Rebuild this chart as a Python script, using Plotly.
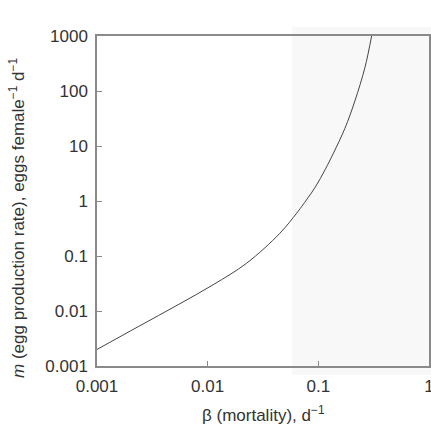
import plotly.graph_objects as go

# data
beta = [0.001, 0.00236, 0.0054, 0.0112, 0.0225, 0.045, 0.0637, 0.0706, 0.094, 0.115, 0.136, 0.174, 0.214, 0.264, 0.303]
m_rate = [0.002, 0.0052, 0.013, 0.03, 0.074, 0.26, 0.6, 0.79, 1.8, 3.7, 7.2, 21, 66, 270, 1000]

x_ticks = [0.001, 0.01, 0.1, 1]
x_labels = ["0.001", "0.01", "0.1", "1"]
y_ticks = [0.001, 0.01, 0.1, 1, 10, 100, 1000]
y_labels = ["0.001", "0.01", "0.1", "1", "10", "100", "1000"]

W, H = 431, 437
L, R, T, B = 97, 2, 36, 71
FONT = "Liberation Sans, Arial, sans-serif"

fig = go.Figure()
fig.add_trace(go.Scatter(x=beta, y=m_rate, mode="lines",
                         line=dict(color="#444444", width=1, shape="spline", smoothing=1.0),
                         showlegend=False, hoverinfo="skip"))

axis_common = dict(type="log", showgrid=False, zeroline=False, showline=True,
                   linecolor="#8a8a8a", linewidth=1.5, mirror=True,
                   ticks="inside", ticklen=5, tickcolor="#8a8a8a", tickwidth=1,
                   automargin=False, ticklabeloverflow="allow",
                   tickfont=dict(family=FONT, size=17, color="#333333"))

fig.update_xaxes(range=[-3, 0], tickvals=x_ticks, ticktext=x_labels, ticklabelstandoff=4, **axis_common)
fig.update_yaxes(range=[-3, 3], tickvals=y_ticks, ticktext=y_labels, ticklabelstandoff=4, **axis_common)

# faint scan shading on the right
fig.add_shape(type="rect", xref="paper", yref="paper",
              x0=(292 - L) / (W - L - R), x1=1.01,
              y0=-(375 - (H - B)) / (H - T - B), y1=1 + (T - 27) / (H - T - B),
              fillcolor="#f8f8f8", line=dict(width=0), layer="below")

fig.add_annotation(text="β (mortality), d<sup>−1</sup>", xref="paper", yref="paper",
                   x=0.5, y=-(414 - (H - B)) / (H - T - B), showarrow=False,
                   font=dict(family=FONT, size=17, color="#333333"),
                   xanchor="center", yanchor="middle")
fig.add_annotation(text="<i>m</i> (egg production rate), eggs female<sup>−1</sup> d<sup>−1</sup>",
                   xref="paper", yref="paper",
                   x=-(L - 17) / (W - L - R), y=((H - B) - 218) / (H - T - B),
                   textangle=-90, showarrow=False,
                   font=dict(family=FONT, size=17, color="#333333"),
                   xanchor="center", yanchor="middle")

fig.update_layout(width=W, height=H, margin=dict(l=L, r=R, t=T, b=B),
                  paper_bgcolor="white", plot_bgcolor="rgba(0,0,0,0)")

fig.write_html("out.html", config={"displayModeBar": False},
               post_script="document.body.style.margin='0';document.body.style.overflow='hidden';")
